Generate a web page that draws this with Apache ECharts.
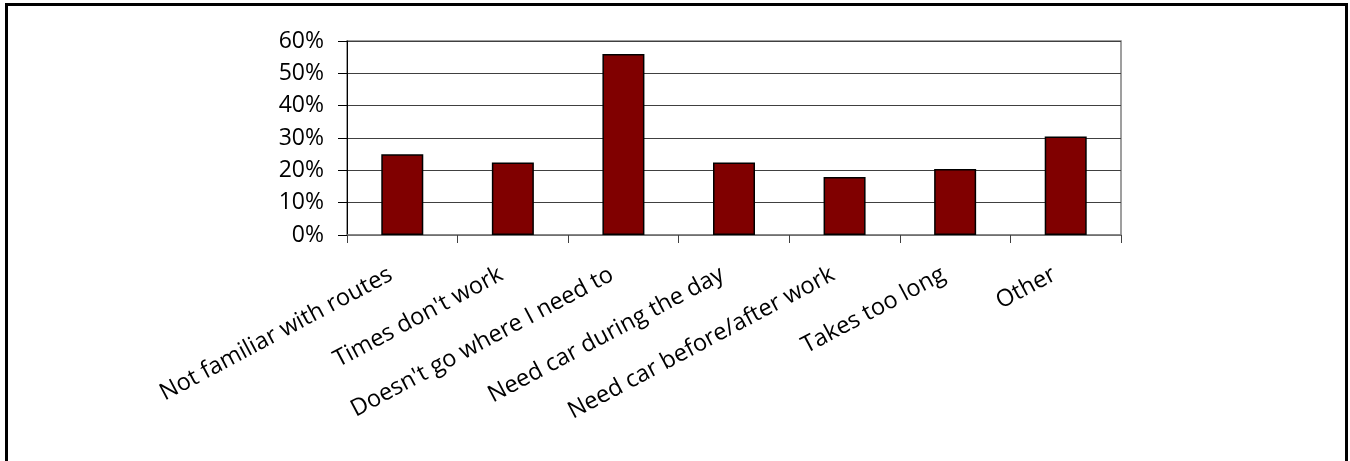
<!DOCTYPE html>
<html>
<head>
<meta charset="utf-8">
<script src="https://cdn.jsdelivr.net/npm/echarts@6/dist/echarts.min.js"></script>
<style>
  html, body { margin: 0; padding: 0; background: #fff; }
  #chart { width: 1350px; height: 461px; }
</style>
</head>
<body>
<div id="chart"></div>
<script>
const categories = [
  "Not familiar with routes",
  "Times don't work",
  "Doesn't go where I need to",
  "Need car during the day",
  "Need car before/after work",
  "Takes too long",
  "Other"
];
const values = [0.25, 0.224, 0.56, 0.224, 0.179, 0.204, 0.305];
const yTicks = { min: 0, max: 0.6, interval: 0.1 };

const FONT = "Open Sans";
const chart = echarts.init(document.getElementById('chart'), null, { renderer: 'canvas' });
chart.setOption({
  backgroundColor: '#ffffff',
  animation: false,
  graphic: [{
    type: 'rect',
    shape: { x: 6.5, y: 4.5, width: 1340, height: 500 },
    style: { fill: 'none', stroke: '#000', lineWidth: 3 },
    silent: true,
    z: 100
  }],
  grid: {
    left: 347, right: 229, top: 41, bottom: 226,
    show: true, borderColor: '#808080', borderWidth: 1.5, containLabel: false
  },
  xAxis: {
    type: 'category',
    data: categories,
    boundaryGap: true,
    axisLine: { show: true, lineStyle: { color: '#808080', width: 1.5 } },
    axisTick: { show: true, alignWithLabel: false, length: 8, lineStyle: { color: '#404040', width: 1 } },
    axisLabel: {
      interval: 0,
      rotate: 28,
      margin: 32,
      padding: [0, 13, 0, 0],
      fontFamily: FONT,
      fontSize: 23.5,
      color: '#000'
    },
    splitLine: { show: false }
  },
  yAxis: {
    type: 'value',
    min: yTicks.min, max: yTicks.max, interval: yTicks.interval,
    axisLine: { show: true, lineStyle: { color: '#000', width: 1 } },
    axisTick: { show: true, length: 9, lineStyle: { color: '#000', width: 1 } },
    axisLabel: {
      margin: 23,
      fontFamily: FONT,
      fontSize: 23,
      color: '#000',
      formatter: v => Math.round(v * 100) + '%'
    },
    splitLine: { show: true, lineStyle: { color: '#404040', width: 1 } }
  },
  series: [{
    type: 'bar',
    data: values,
    barWidth: 42,
    itemStyle: { color: '#800000', borderColor: '#000', borderWidth: 1.5 }
  }]
});
</script>
</body>
</html>
